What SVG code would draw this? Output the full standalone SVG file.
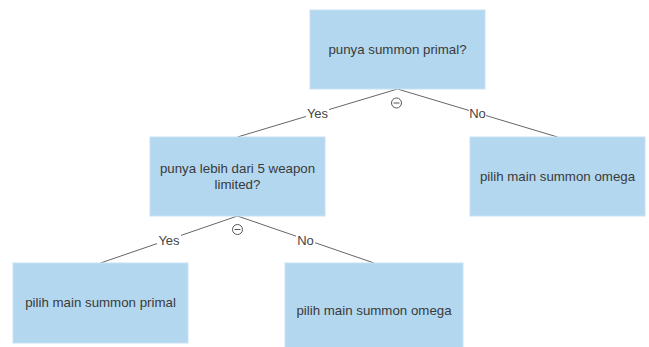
<svg xmlns="http://www.w3.org/2000/svg" width="649" height="347" viewBox="0 0 649 347">
<style>
.node rect{fill:#b3d7ef;stroke:#c9e2f4;stroke-width:1}
.node text{font-family:"Liberation Sans",Arial,sans-serif;font-size:13.3px;fill:#3a3a3a;text-anchor:middle}
.conn line{stroke:#666;stroke-width:1}
.lbl rect{fill:#fff}
.lbl text{font-family:"Liberation Sans",Arial,sans-serif;font-size:13px;fill:#444;text-anchor:middle}
.icon circle{fill:#fff;stroke:#555;stroke-width:1}
.icon line{stroke:#555;stroke-width:1}
</style>
<rect width="649" height="347" fill="#fff"/>
<g id="connectors" class="conn">
<line x1="397.5" y1="89" x2="237.5" y2="137"/>
<line x1="397.5" y1="89" x2="557.5" y2="137"/>
<line x1="237.5" y1="216" x2="100.5" y2="263"/>
<line x1="237.5" y1="216" x2="374" y2="263"/>
</g>
<g id="labels" class="lbl">
<rect x="306" y="106" width="23" height="14"/><text x="317.5" y="118">Yes</text>
<rect x="469" y="106" width="17" height="14"/><text x="477.5" y="118">No</text>
<rect x="157" y="233" width="24" height="14"/><text x="169" y="245">Yes</text>
<rect x="296" y="233" width="19" height="14"/><text x="305.5" y="245">No</text>
</g>
<g id="icons" class="icon">
<circle cx="396.5" cy="103" r="5"/><line x1="393.5" y1="103" x2="399.5" y2="103"/>
<circle cx="237.5" cy="229.5" r="5"/><line x1="234.5" y1="229.5" x2="240.5" y2="229.5"/>
</g>
<g id="n1" class="node"><rect x="310" y="10" width="175" height="79"/><text x="397.5" y="54">punya summon primal?</text></g>
<g id="n2" class="node"><rect x="150" y="137" width="175" height="79"/><text x="237.5" y="173">punya lebih dari 5 weapon</text><text x="237.5" y="188.5">limited?</text></g>
<g id="n3" class="node"><rect x="470" y="137" width="175" height="79"/><text x="557.5" y="181">pilih main summon omega</text></g>
<g id="n4" class="node"><rect x="13" y="263" width="175" height="80"/><text x="100.5" y="307">pilih main summon primal</text></g>
<g id="n5" class="node"><rect x="285" y="263" width="178" height="94"/><text x="374" y="314.5">pilih main summon omega</text></g>
</svg>
